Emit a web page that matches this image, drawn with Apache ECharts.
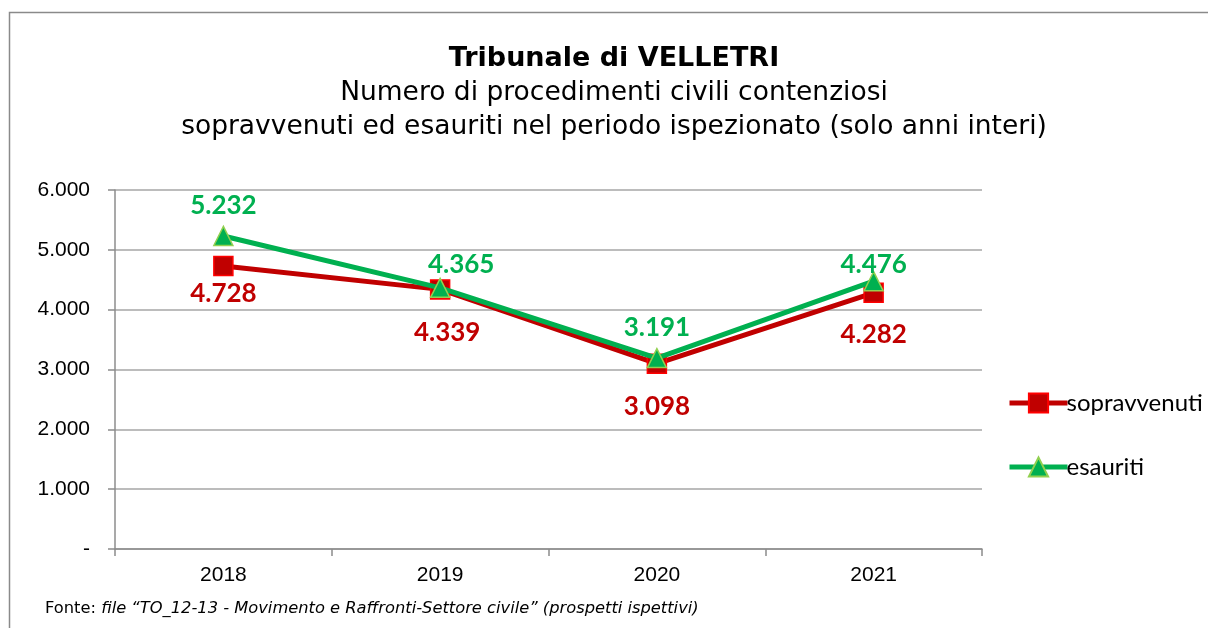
<!DOCTYPE html>
<html>
<head>
<meta charset="utf-8">
<script src="https://cdn.jsdelivr.net/npm/echarts@6/dist/echarts.min.js"></script>
<style>
  html, body { margin: 0; padding: 0; background: #fff; }
  #chart { width: 1208px; height: 628px; }
</style>
</head>
<body>
<div id="chart"></div>
<script>
// dati
var anni = ['2018', '2019', '2020', '2021'];
var sopravvenuti = [4728, 4339, 3098, 4282];
var esauriti = [5232, 4365, 3191, 4476];
var yTicks = [0, 1000, 2000, 3000, 4000, 5000, 6000];

// posizione etichette (solo stile)
var offSopr = [[0, 0], [7, 16], [0, 16], [0, 15]];
var offEsau = [[0, 0], [21, 7], [0, 0], [0, 14]];

// formato italiano 4.728
function fmt(v) {
  if (v === 0) return '-';
  return String(v).replace(/\B(?=(\d{3})+(?!\d))/g, '.');
}

var chart = echarts.init(document.getElementById('chart'));

var option = {
  backgroundColor: '#fff',
  animation: false,
  title: {
    text: 'Tribunale di VELLETRI',
    subtext: 'Numero di procedimenti civili contenziosi\nsopravvenuti ed esauriti nel periodo ispezionato (solo anni interi)',
    left: 609,
    textAlign: 'center',
    top: 40,
    itemGap: 4,
    textStyle: {
      fontFamily: 'DejaVu Sans',
      fontWeight: 'bold',
      fontSize: 27,
      color: '#000'
    },
    subtextStyle: {
      fontFamily: 'DejaVu Sans',
      fontSize: 26.5,
      lineHeight: 34,
      color: '#000'
    }
  },
  legend: {
    orient: 'vertical',
    left: 1002,
    top: 386,
    itemGap: 40,
    itemWidth: 58,
    itemHeight: 24,
    lineStyle: { width: 5 },
    textStyle: { fontFamily: 'Lato', fontSize: 24, color: '#000', padding: [0, 0, 0, -6] },
    data: ['sopravvenuti', 'esauriti']
  },
  grid: { left: 115, right: 226, top: 190, bottom: 79 },
  xAxis: {
    type: 'category',
    data: anni,
    boundaryGap: true,
    axisLine: { lineStyle: { color: '#8c8c8c', width: 1.5 } },
    axisTick: { show: true, length: 7, lineStyle: { color: '#8c8c8c', width: 1.5 } },
    axisLabel: { fontFamily: 'Liberation Sans', fontSize: 21, color: '#000', margin: 16 }
  },
  yAxis: {
    type: 'value',
    min: 0,
    max: 6000,
    interval: 1000,
    axisLine: { show: true, lineStyle: { color: '#8c8c8c', width: 1.5 } },
    axisTick: { show: true, length: 7, lineStyle: { color: '#8c8c8c', width: 1.5 } },
    splitLine: { lineStyle: { color: '#a6a6a6', width: 1.5 } },
    axisLabel: {
      fontFamily: 'Liberation Sans', fontSize: 21, color: '#000', margin: 25,
      formatter: function (v) { return yTicks.indexOf(v) >= 0 ? fmt(v) : ''; }
    }
  },
  series: [
    {
      name: 'sopravvenuti',
      type: 'line',
      data: sopravvenuti.map(function (v, i) {
        return { value: v, label: { offset: offSopr[i] } };
      }),
      symbol: 'rect',
      symbolSize: 19,
      lineStyle: { color: '#C00000', width: 5 },
      itemStyle: { color: '#C00000', borderColor: '#FF0000', borderWidth: 1.5 },
      label: {
        show: true,
        position: 'bottom',
        distance: 4,
        formatter: function (p) { return fmt(p.value); },
        fontFamily: 'Lato',
        fontWeight: 'bold',
        fontSize: 26,
        color: '#C00000'
      },
      z: 2
    },
    {
      name: 'esauriti',
      type: 'line',
      data: esauriti.map(function (v, i) {
        return { value: v, label: { offset: offEsau[i] } };
      }),
      symbol: 'triangle',
      symbolSize: 19,
      lineStyle: { color: '#00B050', width: 5 },
      itemStyle: { color: '#00B050', borderColor: '#92D050', borderWidth: 1.5 },
      label: {
        show: true,
        position: 'top',
        distance: 7,
        formatter: function (p) { return fmt(p.value); },
        fontFamily: 'Lato',
        fontWeight: 'bold',
        fontSize: 26,
        color: '#00B050'
      },
      z: 3
    }
  ],
  graphic: [
    {
      type: 'rect',
      shape: { x: 9.5, y: 12.5, width: 1400, height: 800 },
      style: { fill: 'none', stroke: '#8a8a8a', lineWidth: 1.5 },
      silent: true
    },
    {
      type: 'text',
      left: 45,
      top: 601,
      style: {
        text: '{n|Fonte: }{i|file \u201cTO_12-13 - Movimento e Raffronti-Settore civile\u201d (prospetti ispettivi)}',
        rich: {
          n: { fontFamily: 'DejaVu Sans', fontSize: 16.3, fill: '#000' },
          i: { fontFamily: 'DejaVu Sans', fontSize: 16.3, fontStyle: 'italic', fill: '#000' }
        }
      }
    }
  ]
};

chart.setOption(option);
</script>
</body>
</html>
